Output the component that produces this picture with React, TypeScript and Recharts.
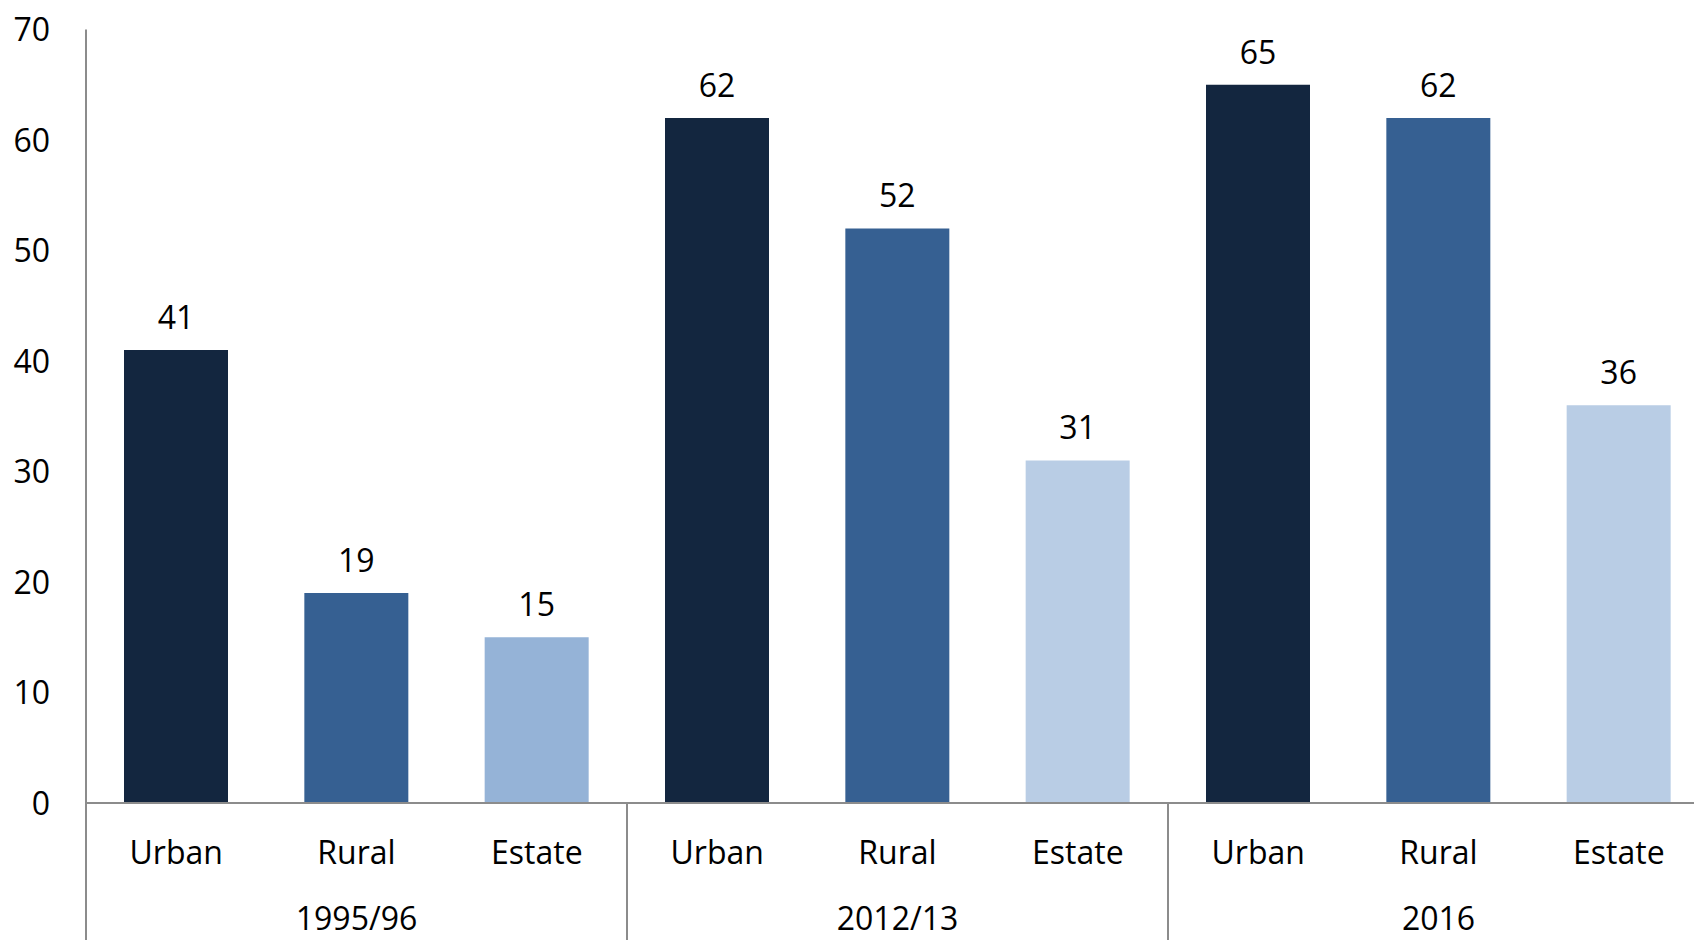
import { BarChart, Bar, XAxis, YAxis, Cell, LabelList } from 'recharts';

const years = ['1995/96', '2012/13', '2016'];
const sectors = ['Urban', 'Rural', 'Estate'];
const urbanValues = [41, 62, 65];
const ruralValues = [19, 52, 62];
const estateValues = [15, 31, 36];
const yTicks = [0, 10, 20, 30, 40, 50, 60, 70];

const urbanColor = '#13263F';
const ruralColor = '#366092';
const estateColors = ['#95B3D7', '#B9CDE5', '#B9CDE5'];

const FONT = '"Open Sans", sans-serif';
const CHART_W = 1720;
const CHART_H = 940;
const PLOT_LEFT = 86;
const PLOT_RIGHT = 1709;
const PLOT_BOTTOM = 803;
const BAND = (PLOT_RIGHT - PLOT_LEFT) / 9;
const AXIS_COLOR = '#8C8C8C';

const data = years.flatMap((year, i) =>
  sectors.map((sector, j) => ({
    key: `${year}-${sector}`,
    year,
    sector,
    pos: j,
    value: [urbanValues, ruralValues, estateValues][j][i],
    color: j === 0 ? urbanColor : j === 1 ? ruralColor : estateColors[i],
  }))
);

// category + group label, with the group separator line
const XTick = ({ x, payload }: any) => {
  const d = data[payload.index];
  if (!d) return null;
  return (
    <g>
      <text x={x} y={852} textAnchor="middle" dy="0.36em" fontSize={32} fontFamily={FONT} fill="#000">
        {d.sector}
      </text>
      {d.pos === 1 && (
        <text x={x} y={918} textAnchor="middle" dy="0.36em" fontSize={32} fontFamily={FONT} fill="#000">
          {d.year}
        </text>
      )}
      {d.pos === 0 && (
        <line x1={x - BAND / 2} x2={x - BAND / 2} y1={PLOT_BOTTOM} y2={CHART_H} stroke={AXIS_COLOR} strokeWidth={2} />
      )}
    </g>
  );
};

const YTick = ({ y, payload }: any) => (
  <text x={50} y={y} textAnchor="end" dy="0.36em" fontSize={32} fontFamily={FONT} fill="#000">
    {payload.value}
  </text>
);

export default function App() {
  return (
    <div
      style={{
        position: 'absolute',
        left: 0,
        top: 0,
        width: 1694,
        height: CHART_H,
        overflow: 'hidden',
        background: '#fff',
      }}
    >
      <BarChart
        width={CHART_W}
        height={CHART_H}
        data={data}
        margin={{ top: 29.6, right: CHART_W - PLOT_RIGHT, left: 0, bottom: 0 }}
      >
        <XAxis
          dataKey="key"
          height={CHART_H - PLOT_BOTTOM}
          interval={0}
          tickLine={false}
          axisLine={{ stroke: AXIS_COLOR, strokeWidth: 2 }}
          tick={<XTick />}
        />
        <YAxis
          width={PLOT_LEFT}
          domain={[0, 70]}
          ticks={yTicks}
          interval={0}
          tickLine={false}
          axisLine={{ stroke: AXIS_COLOR, strokeWidth: 2 }}
          tick={<YTick />}
        />
        <Bar dataKey="value" barSize={104} isAnimationActive={false}>
          {data.map((d) => (
            <Cell key={d.key} fill={d.color} />
          ))}
          <LabelList
            dataKey="value"
            position="top"
            offset={21}
            fill="#000"
            fontSize={32}
            fontFamily={FONT}
          />
        </Bar>
      </BarChart>
    </div>
  );
}
